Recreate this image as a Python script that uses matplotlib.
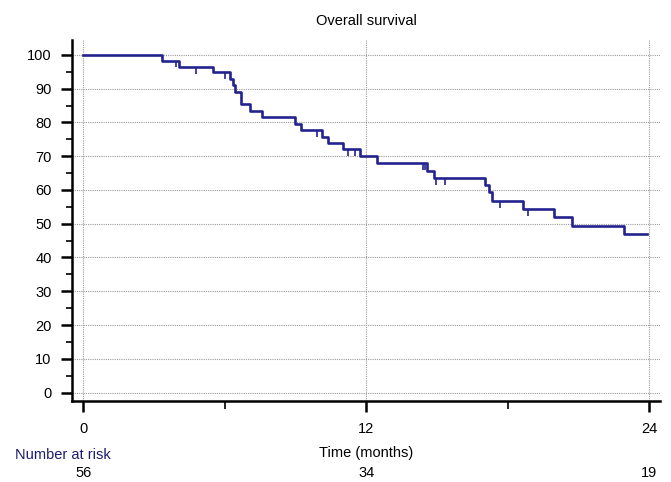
import numpy as np
import matplotlib.pyplot as plt
from matplotlib.transforms import blended_transform_factory

tiempos = [0, 3.32, 4.07, 5.52, 6.23, 6.33, 6.43, 6.68, 7.06, 7.57, 9.0, 9.25,
           10.14, 10.4, 11.03, 11.74, 12.44, 14.59, 14.87, 17.06, 17.23, 17.34,
           18.66, 19.96, 20.73, 22.92]
supervivencia = [100, 98.3, 96.4, 94.8, 92.8, 91.1, 88.9, 85.4, 83.4, 81.5, 79.6,
                 77.8, 75.8, 73.8, 72.1, 70.2, 67.9, 65.7, 63.5, 61.5, 59.3, 56.8,
                 54.4, 52.1, 49.4, 47.0]
tiempo_final = 23.91
censurados = [3.93, 4.77, 6.0, 9.93, 11.23, 11.51, 14.41, 14.49, 14.98, 15.36,
              17.7, 18.86]

riesgo_tiempos = [0, 12, 24]
riesgo_n = [56, 34, 19]

color_linea = '#23238f'

plt.rcParams['font.family'] = ['Liberation Sans', 'DejaVu Sans']

fig = plt.figure(figsize=(6.71, 4.82), dpi=100)
ax = fig.add_axes([0.1078, 0.168, 0.8755, 0.749])

# Curva escalonada
t = tiempos + [tiempo_final]
s = supervivencia + [supervivencia[-1]]
ax.step(t, s, where='post', color=color_linea, lw=1.9, zorder=3)

# Marcas de censura (cuelgan hacia abajo desde la curva)
idx = np.searchsorted(tiempos, censurados, side='right') - 1
s_cens = np.array(supervivencia)[idx]
ax.vlines(censurados, s_cens, s_cens - 2.0, color=color_linea, lw=1.2, zorder=3)

ax.set_xlim(-0.47, 24.46)
ax.set_ylim(-2.5, 104.4)

ax.set_xticks([0, 12, 24])
ax.set_xticks([6, 18], minor=True)
ax.set_yticks(range(0, 101, 10))
ax.set_yticks(range(5, 100, 10), minor=True)

ax.grid(True, which='major', color='#9a9a9a', linestyle=(0, (1, 1)), lw=0.8)
ax.set_axisbelow(True)

for lado in ['top', 'right']:
    ax.spines[lado].set_visible(False)
for lado in ['left', 'bottom']:
    ax.spines[lado].set_linewidth(1.8)

ax.tick_params(axis='both', which='major', direction='out', length=8, width=1.8,
               labelsize=10.5, pad=7)
ax.tick_params(axis='y', which='minor', direction='out', length=4.5, width=1.2)
ax.tick_params(axis='x', which='minor', direction='out', length=5.5, width=1.2)

ax.set_title('Overall survival', fontsize=10.5, pad=11)
ax.set_xlabel('Time (months)', fontsize=10.5, labelpad=7)

# Número en riesgo
fig.text(15 / 671, 1 - 455 / 482, 'Number at risk', color='#1b1b70',
         fontsize=10.5, ha='left', va='center')
trans = blended_transform_factory(ax.transData, fig.transFigure)
for x, n in zip(riesgo_tiempos, riesgo_n):
    ax.text(x, 1 - 473 / 482, str(n), transform=trans, ha='center', va='center',
            fontsize=10.5)

fig.savefig('out.png', dpi=100)
